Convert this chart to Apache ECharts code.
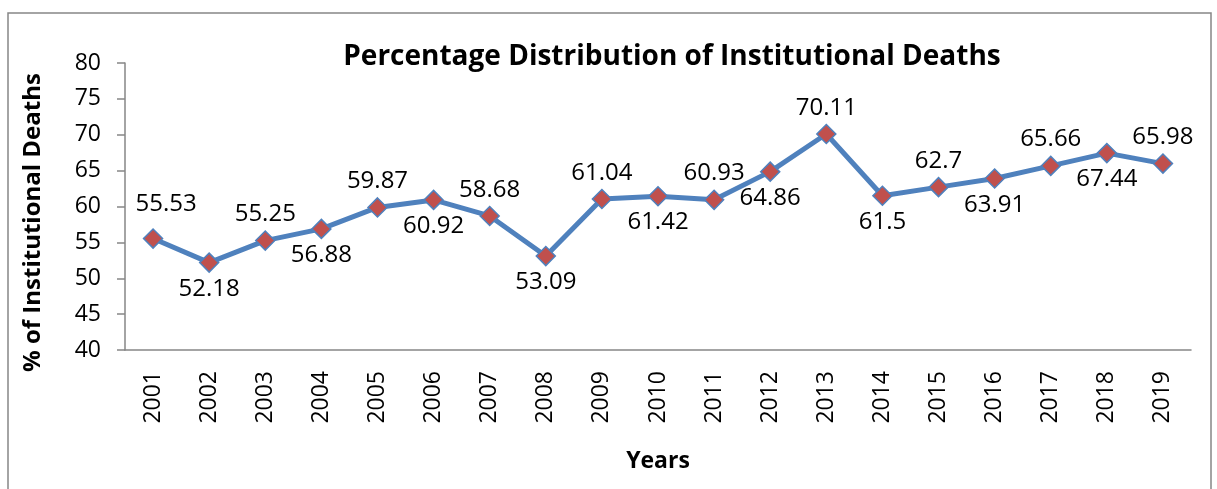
<!DOCTYPE html>
<html>
<head>
<meta charset="utf-8">
<script src="https://cdn.jsdelivr.net/npm/echarts@6/dist/echarts.min.js"></script>
<style>
  html, body { margin: 0; padding: 0; background: #fff; }
  #chart { width: 1217px; height: 489px; }
</style>
</head>
<body>
<div id="chart"></div>
<script>
// data
const years = ['2001', '2002', '2003', '2004', '2005', '2006', '2007', '2008', '2009', '2010',
  '2011', '2012', '2013', '2014', '2015', '2016', '2017', '2018', '2019'];
const deaths = [55.53, 52.18, 55.25, 56.88, 59.87, 60.92, 58.68, 53.09, 61.04, 61.42,
  60.93, 64.86, 70.11, 61.5, 62.7, 63.91, 65.66, 67.44, 65.98];
// labels alternate: above, below, above ...
const labelSide = ['top', 'bottom', 'top', 'bottom', 'top', 'bottom', 'top', 'bottom', 'top', 'bottom',
  'top', 'bottom', 'top', 'bottom', 'top', 'bottom', 'top', 'bottom', 'top'];

const font = '"Open Sans", sans-serif';

const getOption = () => {
    return {
        animation: false,
        graphic: [{
            type: 'rect',
            shape: { x: 8, y: 13, width: 1203, height: 500 },
            style: { fill: 'none', stroke: '#868686', lineWidth: 1.5 }
        }],
        title: {
            text: 'Percentage Distribution of Institutional Deaths',
            left: 667,
            top: 38,
            textAlign: 'center',
            textStyle: { fontFamily: font, fontSize: 28, fontWeight: 'bold', color: '#000' }
        },
        grid: { left: 125, right: 26, top: 63, bottom: 139 },
        xAxis: {
            type: 'category',
            data: years,
            name: 'Years',
            nameLocation: 'middle',
            nameGap: 100,
            nameTextStyle: { fontFamily: font, fontSize: 23, fontWeight: 'bold', color: '#000' },
            axisLine: { lineStyle: { color: '#868686', width: 1.5 } },
            axisTick: { length: 8, lineStyle: { color: '#868686', width: 1.5 } },
            axisLabel: { rotate: 90, margin: 21, fontFamily: font, fontSize: 23, color: '#000' }
        },
        yAxis: {
            type: 'value',
            min: 40,
            max: 80,
            interval: 5,
            name: '% of Institutional Deaths',
            nameLocation: 'middle',
            nameGap: 80,
            nameTextStyle: {
                fontFamily: font, fontSize: 24, fontWeight: 'bold', color: '#000',
                padding: [0, 32, 0, 0]
            },
            splitLine: { show: false },
            axisLine: { show: true, lineStyle: { color: '#868686', width: 1.5 } },
            axisTick: { show: true, length: 8, lineStyle: { color: '#868686', width: 1.5 } },
            axisLabel: { margin: 24, fontFamily: font, fontSize: 23, color: '#000' }
        },
        series: [{
            type: 'line',
            data: deaths.map((v, i) => ({
                value: v,
                label: { position: labelSide[i], offset: i === 0 ? [13, -8] : [0, 0] }
            })),
            symbol: 'diamond',
            symbolSize: 19,
            lineStyle: { color: '#4F81BD', width: 5 },
            itemStyle: { color: '#C0504D', borderColor: '#4F81BD', borderWidth: 1.5 },
            label: {
                show: true,
                distance: 4,
                fontFamily: font,
                fontSize: 24,
                color: '#000'
            }
        }]
    };
};

const chart = echarts.init(document.getElementById('chart'));
chart.setOption(getOption());
</script>
</body>
</html>
